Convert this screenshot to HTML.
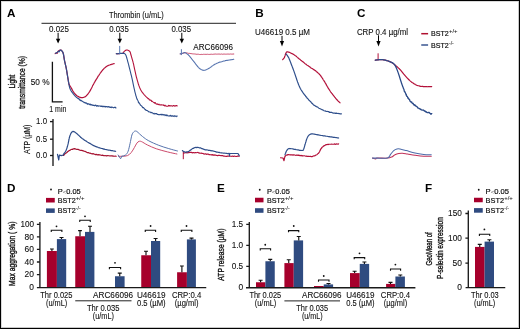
<!DOCTYPE html>
<html><head><meta charset="utf-8">
<style>
html,body{margin:0;padding:0;background:#fff;width:520px;height:329px;overflow:hidden}
svg{display:block;will-change:transform}
text{font-family:"Liberation Sans",sans-serif;fill:#111;stroke:#111;stroke-width:0.1}
.b{font-weight:bold;font-size:11.7px;fill:#000;stroke:none}
.t8{font-size:8.25px}
.t75{font-size:7.5px;stroke-width:0.2}
.sup{font-size:5px;stroke-width:0.05}
.ax{stroke:#1a1a1a;stroke-width:1.35;fill:none}
.tr{fill:none;stroke-width:1.2;stroke-linejoin:round;stroke-linecap:round}
.rd{stroke:#b3113a}
.rd2{stroke:#a5112f}
.bl2{stroke:#2b4a88}
.rdm{stroke:#c03058;stroke-width:1.05}
.blm{stroke:#4d6caa;stroke-width:1.05}
.bl{stroke:#2f4f8c}
.rdl{stroke:#cc4b6c;stroke-width:1}
.bll{stroke:#5874ad;stroke-width:1}
.rb{fill:#a6002c}
.bb{fill:#2f4b80}
.eb{stroke:#111;stroke-width:1.15;fill:none}
.br{stroke:#111;stroke-width:1.1;fill:none}
.ar{fill:#000}
.rl{font-size:8.8px;stroke:#111;stroke-width:0.35}
</style></head>
<body>
<svg width="520" height="329" viewBox="0 0 520 329">
<rect x="0" y="0" width="520" height="329" fill="#fff"/>
<!-- border -->
<g shape-rendering="crispEdges">
<rect x="0" y="1" width="520" height="1" fill="#dadada"/>
<rect x="1" y="0" width="1" height="329" fill="#dadada"/>
<rect x="518" y="0" width="1" height="329" fill="#c8c8c8"/>
<rect x="0" y="327" width="520" height="1" fill="#c8c8c8"/>
<rect x="0" y="0" width="520" height="1" fill="#000"/>
<rect x="0" y="0" width="1" height="329" fill="#000"/>
<rect x="519" y="0" width="1" height="329" fill="#000"/>
<rect x="0" y="328" width="520" height="1" fill="#000"/>
</g>

<!-- ============ PANEL A ============ -->
<text class="b" x="7" y="16.9">A</text>
<text class="t8" x="108.9" y="17.6" textLength="54.9" lengthAdjust="spacingAndGlyphs">Thrombin (u/mL)</text>
<line x1="41.5" y1="23.3" x2="236" y2="23.3" stroke="#222" stroke-width="1"/>
<text class="t8" x="49" y="31.7" textLength="20" lengthAdjust="spacingAndGlyphs">0.025</text>
<text class="t8" x="109.2" y="31.7" textLength="19.6" lengthAdjust="spacingAndGlyphs">0.035</text>
<text class="t8" x="171.4" y="31.7" textLength="19.6" lengthAdjust="spacingAndGlyphs">0.035</text>
<g>
<line x1="58.1" y1="32.8" x2="58.1" y2="40" stroke="#000" stroke-width="1"/>
<polygon class="ar" points="55.9,38.8 60.3,38.8 58.1,43.6"/>
<line x1="119.8" y1="32.8" x2="119.8" y2="40" stroke="#000" stroke-width="1"/>
<polygon class="ar" points="117.6,38.8 122,38.8 119.8,43.6"/>
<line x1="181.8" y1="32.8" x2="181.8" y2="40" stroke="#000" stroke-width="1"/>
<polygon class="ar" points="179.6,38.8 184,38.8 181.8,43.6"/>
</g>
<text class="t8" x="193.3" y="49.7" textLength="39.6" lengthAdjust="spacingAndGlyphs">ARC66096</text>

<!-- light transmission traces A -->
<path id="a1r" class="tr rd" d="M55.20,53.60 L56.40,52.90 L57.30,53.30 M57.30,52.40 L57.58,52.05 L57.97,51.53 L58.43,51.00 L58.90,50.60 L59.58,50.25 L60.32,50.05 L61.00,50.10 L61.45,50.37 L61.88,50.81 L62.26,51.34 L62.60,51.90 L62.87,52.43 L63.09,52.97 L63.29,53.63 L63.50,54.50 L63.60,54.99 L63.70,55.55 L63.80,56.16 L63.89,56.80 L63.99,57.47 L64.09,58.13 L64.19,58.79 L64.30,59.42 L64.40,60.00 L64.54,60.69 L64.68,61.36 L64.82,61.99 L64.97,62.62 L65.11,63.24 L65.26,63.86 L65.40,64.50 L65.54,65.11 L65.67,65.68 L65.80,66.23 L65.94,66.81 L66.08,67.45 L66.23,68.21 L66.40,69.10 L66.49,69.58 L66.58,70.11 L66.67,70.68 L66.77,71.28 L66.88,71.91 L66.98,72.56 L67.09,73.22 L67.20,73.89 L67.30,74.56 L67.41,75.22 L67.52,75.87 L67.62,76.50 L67.72,77.10 L67.81,77.67 L67.90,78.20 L68.03,78.95 L68.14,79.68 L68.26,80.38 L68.36,81.06 L68.47,81.70 L68.57,82.31 L68.68,82.87 L68.78,83.40 L68.89,83.87 L69.00,84.30 L69.40,85.25 L69.80,85.73 L70.20,86.20 L70.51,86.70 L70.82,87.19 L71.30,88.00 L71.52,88.40 L71.77,88.87 L72.04,89.39 L72.33,89.94 L72.64,90.52 L72.96,91.10 L73.30,91.67 L73.64,92.21 L74.00,92.70 L74.42,93.23 L74.86,93.75 L75.33,94.19 L75.81,94.78 L76.30,95.20 L76.80,95.71 L77.30,96.10 L77.80,96.27 L78.39,96.58 L78.99,97.09 L79.61,97.14 L80.23,97.30 L80.85,97.65 L81.44,97.56 L82.00,97.70 L82.72,97.57 L83.40,97.52 L84.05,97.18 L84.71,97.00 L85.40,96.61 L85.80,96.19 L86.20,95.92 L86.60,95.52 L87.01,94.92 L87.43,94.67 L87.85,94.11 L88.29,93.45 L88.74,92.75 L89.20,92.31 L89.47,91.77 L89.75,91.38 L90.03,90.94 L90.32,90.37 L90.61,89.90 L90.91,89.18 L91.20,88.73 L91.51,88.04 L91.81,87.60 L92.11,86.99 L92.42,86.16 L92.72,85.59 L93.02,85.04 L93.32,84.70 L93.61,84.00 L93.90,83.54 L94.23,82.86 L94.55,82.35 L94.87,81.75 L95.19,81.18 L95.50,80.69 L95.82,80.14 L96.13,79.70 L96.45,79.09 L96.76,78.63 L97.08,78.08 L97.41,77.60 L97.73,76.98 L98.06,76.31 L98.40,76.01 L98.77,75.49 L99.14,74.91 L99.52,74.25 L99.90,73.74 L100.29,73.04 L100.67,72.68 L101.06,72.07 L101.45,71.46 L101.85,70.89 L102.24,70.64 L102.63,70.21 L103.01,69.49 L103.40,69.29 L103.90,68.67 L104.39,68.12 L104.87,67.72 L105.36,67.45 L105.85,67.10 L106.34,66.49 L106.84,66.33 L107.35,65.84 L107.87,65.75 L108.40,65.35 L108.97,65.25 L109.60,65.04 L110.26,64.68 L110.94,64.64 L111.61,64.26 L112.26,64.03 L112.86,64.05 L113.40,63.76 L113.85,63.70 L114.20,63.67"/>
<path id="a1b" class="tr bl" d="M55.60,53.30 L57.30,52.20 L58.20,51.30 L59.00,51.80 L60.00,50.30 M60.00,50.30 L60.40,50.09 L61.00,50.10 L61.37,50.39 L61.81,50.82 L62.24,51.35 L62.60,51.90 L62.82,52.32 L63.01,52.74 L63.17,53.21 L63.33,53.78 L63.50,54.50 L63.58,54.89 L63.66,55.34 L63.74,55.82 L63.82,56.33 L63.90,56.86 L63.98,57.40 L64.07,57.95 L64.15,58.49 L64.23,59.02 L64.31,59.53 L64.40,60.00 L64.51,60.54 L64.62,61.07 L64.73,61.57 L64.84,62.06 L64.95,62.55 L65.06,63.03 L65.18,63.51 L65.29,64.00 L65.40,64.50 L65.51,64.98 L65.61,65.43 L65.71,65.86 L65.82,66.29 L65.92,66.74 L66.03,67.23 L66.14,67.77 L66.27,68.39 L66.40,69.10 L66.47,69.50 L66.55,69.93 L66.63,70.39 L66.71,70.88 L66.79,71.39 L66.88,71.91 L66.97,72.45 L67.05,73.00 L67.14,73.56 L67.23,74.11 L67.32,74.67 L67.41,75.22 L67.50,75.76 L67.58,76.29 L67.67,76.80 L67.75,77.30 L67.83,77.76 L67.90,78.20 L68.01,78.82 L68.11,79.41 L68.21,79.98 L68.30,80.52 L68.39,81.05 L68.48,81.55 L68.57,82.04 L68.66,82.51 L68.74,82.97 L68.83,83.42 L68.91,83.86 L69.00,84.30 L69.12,84.93 L69.23,85.51 L69.33,86.06 L69.42,86.59 L69.53,87.10 L69.66,87.60 L69.81,88.09 L70.00,88.60 L70.19,89.05 L70.39,89.48 L70.61,89.90 L70.84,90.32 L71.09,90.74 L71.36,91.16 L71.65,91.59 L71.96,92.04 L72.30,92.50 L72.57,92.86 L72.85,93.24 L73.15,93.62 L73.46,94.01 L73.78,94.41 L74.11,94.81 L74.46,95.21 L74.81,95.61 L75.17,96.00 L75.54,96.38 L75.92,96.75 L76.30,97.10 L76.70,97.45 L77.13,97.79 L77.57,98.13 L78.03,98.56 L78.49,98.48 L78.96,98.70 L79.43,99.76 L79.90,99.56 L80.35,100.43 L80.79,100.65 L81.21,100.44 L81.60,100.76 L82.14,101.15 L82.64,101.55 L83.10,101.77 L83.54,101.97 L83.98,102.25 L84.43,102.75 L84.90,102.58 L85.40,102.74 L85.86,103.21 L86.30,102.98 L86.73,103.25 L87.18,104.07 L87.65,103.86 L88.16,104.08 L88.71,103.79 L89.32,104.34 L90.00,104.67 L90.40,104.26 L90.81,104.89 L91.26,105.00 L91.72,104.57 L92.20,105.17 L92.69,105.12 L93.19,105.40 L93.71,105.19 L94.23,105.59 L94.76,105.70 L95.29,105.14 L95.82,105.25 L96.35,105.88 L96.87,106.21 L97.39,105.64 L97.90,105.89 L98.40,106.08 L98.92,105.90 L99.44,106.01 L99.95,106.02 L100.46,106.12 L100.97,106.38 L101.48,106.16 L101.99,106.28 L102.50,106.68 L103.01,106.05 L103.53,106.58 L104.04,106.77 L104.56,106.44 L105.09,106.40 L105.62,106.97 L106.16,106.51 L106.70,106.52 L107.20,106.79 L107.73,107.08 L108.29,106.60 L108.86,106.85 L109.45,106.92 L110.04,107.43 L110.64,107.13 L111.23,107.56 L111.82,107.00 L112.39,107.21 L112.95,107.55 L113.48,107.81 L113.99,107.47 L114.46,107.31 L114.89,107.26 L115.28,107.67 L115.62,107.39 L115.90,107.98"/>

<path id="a2r" class="tr rd" style="stroke-width:1.1" d="M116.30,53.80 L119.00,53.60 L122.60,53.30 M122.60,53.30 L122.86,53.00 L123.23,52.56 L123.66,52.07 L124.10,51.59 L124.50,51.20 L124.94,50.83 L125.36,50.51 L125.78,50.27 L126.20,50.10 L126.76,50.00 L127.31,50.03 L127.90,50.20 L128.40,50.41 L128.94,50.69 L129.46,51.08 L129.90,51.60 L130.09,51.94 L130.24,52.29 L130.37,52.67 L130.49,53.10 L130.62,53.62 L130.79,54.24 L131.00,55.00 L131.10,55.36 L131.22,55.74 L131.34,56.16 L131.47,56.60 L131.60,57.06 L131.74,57.54 L131.89,58.03 L132.03,58.54 L132.18,59.06 L132.33,59.58 L132.48,60.11 L132.62,60.64 L132.77,61.17 L132.91,61.69 L133.04,62.21 L133.18,62.71 L133.30,63.20 L133.43,63.71 L133.55,64.22 L133.67,64.74 L133.78,65.25 L133.89,65.76 L134.00,66.27 L134.11,66.78 L134.22,67.29 L134.33,67.81 L134.43,68.32 L134.54,68.83 L134.65,69.34 L134.76,69.86 L134.87,70.37 L134.98,70.88 L135.10,71.40 L135.21,71.89 L135.32,72.37 L135.43,72.86 L135.54,73.35 L135.65,73.84 L135.76,74.33 L135.87,74.82 L135.99,75.31 L136.10,75.79 L136.22,76.28 L136.33,76.77 L136.45,77.26 L136.58,77.75 L136.70,78.24 L136.83,78.73 L136.96,79.21 L137.10,79.70 L137.24,80.19 L137.38,80.69 L137.53,81.19 L137.67,81.69 L137.82,82.20 L137.98,82.71 L138.13,83.22 L138.29,83.72 L138.45,84.23 L138.61,84.72 L138.77,85.21 L138.94,85.69 L139.11,86.16 L139.28,86.62 L139.45,87.06 L139.62,87.49 L139.80,87.90 L140.05,88.45 L140.29,88.97 L140.53,89.47 L140.78,89.94 L141.03,90.39 L141.28,90.83 L141.55,91.25 L141.82,91.67 L142.11,92.10 L142.42,92.52 L142.75,92.95 L143.10,93.40 L143.39,93.76 L143.70,94.13 L144.01,94.50 L144.34,94.87 L144.67,95.24 L145.01,95.61 L145.36,95.97 L145.73,96.34 L146.10,96.70 L146.47,97.06 L146.86,97.42 L147.26,97.77 L147.66,98.12 L148.08,98.77 L148.50,98.52 L148.88,98.90 L149.27,99.67 L149.66,99.82 L150.07,100.26 L150.48,100.15 L150.90,100.25 L151.32,100.68 L151.75,101.42 L152.19,101.23 L152.63,101.58 L153.08,101.91 L153.54,102.18 L154.00,102.42 L154.47,103.12 L154.94,102.66 L155.42,102.75 L155.90,103.80 L156.37,103.93 L156.85,104.20 L157.35,103.87 L157.87,104.49 L158.39,104.63 L158.92,104.14 L159.46,104.74 L160.00,104.96 L160.54,104.92 L161.07,104.91 L161.61,104.81 L162.13,104.96 L162.65,104.96 L163.15,104.90 L163.64,105.46 L164.12,105.26 L164.57,105.81 L165.00,105.19 L165.61,106.05 L166.18,105.93 L166.71,106.18 L167.22,106.18 L167.71,106.20 L168.18,105.91 L168.64,105.40 L169.10,106.05 L169.56,105.52 L170.02,105.63 L170.50,105.95 L171.00,105.82 L171.53,105.72 L172.09,106.19 L172.68,105.89 L173.28,105.64 L173.88,105.55 L174.47,106.09 L175.05,105.73 L175.59,105.99 L176.08,105.59 L176.52,105.44 L176.90,105.74 L177.20,105.99"/>
<path id="a2b" class="tr bl" style="stroke-width:1.1" d="M116.30,53.64 L117.20,53.85 L118.10,53.81 L119.00,53.65 L119.90,53.61 L120.80,53.15 L121.70,53.41 L122.60,53.48 L123.40,53.12 L124.20,53.40 M124.20,53.40 L124.49,53.58 L124.91,53.80 L125.39,54.27 L125.90,55.20 L126.03,55.53 L126.16,55.90 L126.30,56.31 L126.44,56.76 L126.58,57.24 L126.73,57.74 L126.88,58.26 L127.03,58.80 L127.18,59.35 L127.33,59.91 L127.48,60.48 L127.62,61.04 L127.77,61.60 L127.92,62.15 L128.06,62.68 L128.20,63.20 L128.34,63.71 L128.47,64.21 L128.61,64.72 L128.74,65.23 L128.87,65.74 L129.01,66.26 L129.14,66.77 L129.27,67.28 L129.40,67.79 L129.53,68.31 L129.66,68.82 L129.79,69.34 L129.92,69.85 L130.04,70.37 L130.17,70.88 L130.30,71.40 L130.42,71.88 L130.54,72.36 L130.66,72.84 L130.78,73.32 L130.90,73.80 L131.01,74.27 L131.13,74.75 L131.25,75.23 L131.36,75.71 L131.48,76.19 L131.60,76.68 L131.71,77.17 L131.83,77.66 L131.95,78.16 L132.07,78.67 L132.18,79.18 L132.30,79.70 L132.40,80.17 L132.51,80.65 L132.61,81.13 L132.71,81.62 L132.81,82.11 L132.91,82.61 L133.01,83.11 L133.11,83.61 L133.21,84.12 L133.31,84.62 L133.42,85.13 L133.52,85.64 L133.62,86.15 L133.73,86.66 L133.84,87.17 L133.95,87.68 L134.06,88.19 L134.18,88.70 L134.30,89.20 L134.42,89.71 L134.54,90.22 L134.67,90.75 L134.79,91.28 L134.92,91.81 L135.05,92.35 L135.18,92.88 L135.31,93.42 L135.44,93.95 L135.58,94.48 L135.72,95.01 L135.86,95.52 L136.00,96.03 L136.14,96.28 L136.29,96.76 L136.44,97.51 L136.59,97.86 L136.74,98.35 L136.90,99.10 L137.13,98.84 L137.38,99.46 L137.63,100.07 L137.88,100.58 L138.14,101.00 L138.40,102.47 L138.67,102.79 L138.94,102.38 L139.21,103.25 L139.49,103.45 L139.76,103.84 L140.03,104.26 L140.30,104.96 L140.65,105.36 L141.00,105.53 L141.35,105.74 L141.70,106.26 L142.06,106.39 L142.41,107.19 L142.78,107.69 L143.14,107.64 L143.52,107.62 L143.90,108.05 L144.33,108.61 L144.76,109.21 L145.20,109.74 L145.65,109.62 L146.10,110.39 L146.56,110.50 L147.03,110.58 L147.51,110.79 L148.00,111.20 L148.43,111.65 L148.84,111.55 L149.25,112.06 L149.66,111.99 L150.08,111.94 L150.53,112.44 L151.01,112.79 L151.55,112.28 L152.14,112.84 L152.80,113.02 L153.20,113.62 L153.64,113.78 L154.09,113.27 L154.57,113.94 L155.07,113.93 L155.59,113.45 L156.11,113.77 L156.65,113.50 L157.20,114.36 L157.75,114.29 L158.31,114.63 L158.86,114.62 L159.41,114.58 L159.95,114.74 L160.49,114.64 L161.01,114.21 L161.51,114.82 L162.00,114.26 L162.53,114.49 L163.06,115.25 L163.59,114.52 L164.10,114.64 L164.62,114.71 L165.12,115.62 L165.63,114.91 L166.12,114.79 L166.62,115.74 L167.11,115.00 L167.60,115.84 L168.08,115.70 L168.57,115.92 L169.05,116.10 L169.52,115.74 L170.00,116.03 L170.56,115.25 L171.13,116.11 L171.73,115.89 L172.33,116.17 L172.93,115.56 L173.52,116.32 L174.10,116.58 L174.66,115.68 L175.19,116.02 L175.69,116.33 L176.15,116.66 L176.56,116.05 L176.91,116.02 L177.20,116.12"/>
<line x1="119.7" y1="45.9" x2="119.7" y2="53.8" stroke="#5b79b3" stroke-width="1"/>

<path id="a3r" class="tr rdl" d="M180.20,53.93 L181.10,53.83 L182.00,53.57 L182.97,53.26 L183.93,52.97 L184.90,52.66 L185.77,52.80 L186.64,52.83 L187.51,53.09 L188.39,53.36 L189.26,53.32 L190.13,53.55 L191.00,53.50 L191.84,53.75 L192.69,53.85 L193.53,53.92 L194.38,53.96 L195.22,54.04 L196.07,54.18 L196.91,54.34 L197.76,54.21 L198.60,54.28 L199.42,54.47 L200.24,54.52 L201.07,54.41 L201.89,54.38 L202.71,54.47 L203.53,54.31 L204.36,54.33 L205.18,54.31 L206.00,54.43 L206.81,54.32 L207.62,54.28 L208.43,54.40 L209.24,54.46 L210.05,54.24 L210.86,54.34 L211.67,54.23 L212.48,54.35 L213.29,54.25 L214.10,54.13 L214.92,54.11 L215.74,54.04 L216.56,54.17 L217.38,54.13 L218.20,54.06 L219.03,54.11 L219.85,54.09 L220.67,54.22 L221.49,54.02 L222.31,54.26 L223.13,54.10 L223.95,54.13 L224.77,54.08 L225.59,54.18 L226.41,54.17 L227.23,54.08 L228.05,54.05 L228.88,54.12 L229.70,54.15 L230.52,54.00 L231.34,54.10 L232.16,54.15 L232.98,54.00 L233.80,54.00"/>
<path id="a3b" class="tr blm" style="stroke:#5472ae" d="M180.20,53.84 L180.61,53.71 L181.20,53.63 L181.86,53.42 L182.50,53.31 L183.10,53.11 L183.71,52.78 L184.32,52.63 L184.90,52.64 L185.62,52.84 L186.31,53.36 L187.00,53.89 L187.46,54.22 L187.88,54.38 L188.39,55.01 L189.10,55.66 L189.41,56.04 L189.74,56.52 L190.11,56.81 L190.50,57.30 L190.91,57.99 L191.34,58.40 L191.77,58.97 L192.21,59.57 L192.64,60.15 L193.07,60.54 L193.49,61.15 L193.90,61.68 L194.30,62.20 L194.71,62.66 L195.12,63.29 L195.54,63.93 L195.96,64.34 L196.37,64.91 L196.77,65.33 L197.17,65.87 L197.55,66.44 L197.92,66.75 L198.27,67.34 L198.60,67.70 L199.30,68.17 L199.91,68.85 L200.46,69.05 L200.97,69.41 L201.50,69.66 L202.11,69.87 L202.67,70.21 L203.26,70.35 L204.00,70.37 L204.49,70.17 L204.99,70.19 L205.53,70.09 L206.11,69.82 L206.74,69.53 L207.43,69.11 L208.20,68.80 L208.61,68.52 L209.05,68.33 L209.51,68.02 L209.98,67.66 L210.47,67.21 L210.97,66.96 L211.49,66.58 L212.01,66.09 L212.55,65.88 L213.09,65.45 L213.64,64.96 L214.19,64.81 L214.75,64.30 L215.30,64.06 L215.86,63.88 L216.42,63.60 L216.98,63.34 L217.56,63.12 L218.13,62.84 L218.72,62.59 L219.31,62.34 L219.91,62.11 L220.52,62.06 L221.14,61.88 L221.76,61.64 L222.40,61.51 L223.04,61.24 L223.70,61.04 L224.27,60.93 L224.87,60.91 L225.51,60.58 L226.17,60.56 L226.85,60.37 L227.55,60.37 L228.24,60.15 L228.93,60.03 L229.61,59.93 L230.28,59.86 L230.91,59.82 L231.52,59.63 L232.08,59.66 L232.60,59.40 L233.06,59.37 L233.47,59.26 L233.80,59.21"/>
<line x1="181.4" y1="49.2" x2="181.4" y2="55.1" stroke="#5b79b3" stroke-width="1"/>

<!-- scale bar -->
<path d="M52.4,61.7 L52.4,101.8 L62.6,101.8" fill="none" stroke="#111" stroke-width="1.3"/>
<text class="t8" x="30.7" y="84.7" textLength="18.9" lengthAdjust="spacingAndGlyphs">50 %</text>
<text class="t8" x="49.3" y="111.7" textLength="17" lengthAdjust="spacingAndGlyphs">1 min</text>
<text class="rl" text-anchor="middle" transform="translate(14.6,81.65) rotate(-90)" textLength="13.9" lengthAdjust="spacingAndGlyphs">Light</text>
<text class="rl" text-anchor="middle" transform="translate(25.3,82.35) rotate(-90)" textLength="52.9" lengthAdjust="spacingAndGlyphs">transmittance (%)</text>

<!-- ATP axis A -->
<line class="ax" x1="53" y1="119" x2="53" y2="166"/>
<line class="ax" x1="50" y1="121.6" x2="53" y2="121.6"/>
<line class="ax" x1="50" y1="139.2" x2="53" y2="139.2"/>
<line class="ax" x1="50" y1="155.5" x2="53" y2="155.5"/>
<text class="t8" x="47" y="124.2" text-anchor="end" textLength="10.9" lengthAdjust="spacingAndGlyphs">1.0</text>
<text class="t8" x="47" y="141.8" text-anchor="end" textLength="10.9" lengthAdjust="spacingAndGlyphs">0.5</text>
<text class="t8" x="47" y="158.1" text-anchor="end" textLength="10.9" lengthAdjust="spacingAndGlyphs">0.0</text>
<text class="rl" style="font-size:8.3px;stroke-width:0.15" text-anchor="middle" transform="translate(30.2,139.3) rotate(-90)" textLength="29.2" lengthAdjust="spacingAndGlyphs">ATP (µM)</text>

<!-- ATP traces A -->
<path id="p1r" class="tr rd2" d="M63.10,155.36 L63.73,155.30 L64.36,154.40 L64.99,153.81 L65.61,153.47 L66.24,152.79 L66.87,152.49 L67.50,151.82 L68.25,151.21 L69.00,150.68 L69.75,150.51 L70.50,149.79 L71.25,149.54 L72.04,149.22 L72.83,149.29 L73.61,148.81 L74.40,148.62 L75.20,148.81 L76.00,149.26 L76.80,149.35 L77.60,149.39 L78.40,149.44 L79.20,149.91 L80.00,150.23 L80.83,150.32 L81.67,150.31 L82.50,150.60 L83.33,150.91 L84.17,151.22 L85.00,151.43 L85.83,151.72 L86.67,152.30 L87.50,152.70 L88.30,152.54 L89.09,153.12 L89.89,153.06 L90.68,153.42 L91.48,153.66 L92.27,153.87 L93.07,153.60 L93.86,153.93 L94.66,154.27 L95.45,154.63 L96.25,154.39 L97.05,154.59 L97.84,154.96 L98.64,154.68 L99.43,154.91 L100.23,154.97 L101.02,155.24 L101.82,155.45 L102.61,155.16 L103.41,155.54 L104.20,155.63 L105.00,155.77 L105.80,155.67 L106.61,155.90 L107.41,155.67 L108.21,155.74 L109.02,155.70 L109.82,156.02 L110.62,155.92 L111.43,155.86 L112.23,155.85 L113.04,156.17 L113.84,156.16 L114.64,156.26 L115.45,156.15 L116.25,156.25"/>
<path id="p1b" class="tr bl2" d="M57.50,154.40 L58.75,160.00 L59.40,155.00 L61.25,155.60 L63.10,155.00 M63.10,155.07 L63.31,154.73 L63.60,154.17 L63.95,153.68 L64.33,153.17 L64.73,152.64 L65.14,152.02 L65.53,151.35 L65.89,150.66 L66.20,149.92 L66.44,149.40 L66.67,148.76 L66.88,148.22 L67.08,147.61 L67.26,146.88 L67.44,146.25 L67.61,145.73 L67.78,144.91 L67.94,144.45 L68.10,143.84 L68.25,143.22 L68.39,142.44 L68.52,141.83 L68.64,141.18 L68.76,140.54 L68.88,139.98 L69.00,139.28 L69.12,138.58 L69.26,138.14 L69.40,137.50 L69.62,136.77 L69.85,136.08 L70.08,135.22 L70.33,134.76 L70.58,134.14 L70.84,133.56 L71.10,133.11 L71.57,132.43 L72.05,131.88 L72.56,131.65 L73.10,131.39 L73.68,131.55 L74.29,131.82 L74.93,132.14 L75.60,132.62 L76.07,133.06 L76.55,133.46 L77.04,133.74 L77.55,134.39 L78.07,134.84 L78.60,135.19 L79.05,135.67 L79.48,136.05 L79.92,136.43 L80.38,136.97 L80.87,137.49 L81.41,137.79 L82.00,138.39 L82.45,138.68 L82.92,138.88 L83.40,139.40 L83.91,139.69 L84.44,140.12 L84.99,140.43 L85.56,140.81 L86.15,141.09 L86.76,141.58 L87.40,142.00 L87.87,142.27 L88.35,142.47 L88.84,142.86 L89.34,143.11 L89.85,143.34 L90.38,143.64 L90.91,143.97 L91.46,144.33 L92.02,144.64 L92.59,145.03 L93.17,145.39 L93.77,145.65 L94.38,145.91 L95.00,146.24 L95.52,146.37 L96.06,146.63 L96.61,146.91 L97.18,147.03 L97.75,147.18 L98.33,147.56 L98.92,147.71 L99.51,147.82 L100.11,148.01 L100.72,148.24 L101.33,148.43 L101.94,148.52 L102.55,148.64 L103.17,148.86 L103.78,149.16 L104.39,149.16 L105.00,149.39 L105.63,149.48 L106.28,149.62 L106.97,149.76 L107.68,149.95 L108.40,150.03 L109.12,150.13 L109.85,150.28 L110.57,150.41 L111.28,150.61 L111.96,150.61 L112.62,150.71 L113.24,150.91 L113.82,150.99 L114.36,151.14 L114.83,151.06 L115.25,151.22 L115.60,151.28"/>

<path id="p2r" class="tr rdl" d="M118.50,156.30 C119.17,156.29 121.00,156.37 122.50,156.25 C124.00,156.13 126.04,156.22 127.50,155.60 C128.96,154.97 130.10,153.85 131.25,152.50 C132.40,151.15 133.46,149.07 134.40,147.50 C135.34,145.93 136.13,144.12 136.90,143.10 C137.67,142.08 138.23,141.65 139.00,141.40 C139.77,141.15 140.08,141.00 141.50,141.60 C142.92,142.20 145.04,143.81 147.50,145.00 C149.96,146.19 152.92,147.60 156.25,148.75 C159.58,149.90 164.06,151.03 167.50,151.90 C170.94,152.78 175.33,153.65 176.90,154.00"/>
<path id="p2b" class="tr bll" d="M118.10,155.00 L120.60,158.75 L121.90,156.25 M121.90,156.25 C122.52,156.04 124.57,155.83 125.60,155.00 C126.63,154.17 127.37,153.12 128.10,151.25 C128.83,149.38 129.37,146.46 130.00,143.75 C130.63,141.04 131.28,136.97 131.90,135.00 C132.53,133.03 133.20,132.55 133.75,131.90 C134.30,131.25 134.66,131.15 135.20,131.10 C135.74,131.05 135.78,130.70 137.00,131.60 C138.22,132.50 140.54,134.97 142.50,136.50 C144.46,138.03 146.04,139.33 148.75,140.80 C151.46,142.27 155.42,144.00 158.75,145.30 C162.08,146.60 165.62,147.65 168.75,148.60 C171.88,149.55 176.04,150.60 177.50,151.00"/>

<path id="p3r" class="tr rd" d="M183.50,153.19 L184.50,152.99 L185.50,152.58 L186.33,152.63 L187.17,152.99 L188.00,152.57 L188.83,152.60 L189.67,152.36 L190.50,152.41 L191.33,152.35 L192.17,152.79 L193.00,152.64 L193.83,152.72 L194.67,152.79 L195.50,152.57 L196.33,152.76 L197.17,152.52 L198.00,152.45 L198.83,152.94 L199.67,153.08 L200.50,153.27 L201.33,153.16 L202.17,153.50 L203.00,153.44 L203.83,153.94 L204.67,154.03 L205.50,153.79 L206.33,154.32 L207.17,154.01 L208.00,154.09 L208.83,154.61 L209.67,154.49 L210.50,154.76 L211.38,154.92 L212.25,154.64 L213.12,155.15 L214.00,154.96 L214.88,155.13 L215.75,155.17 L216.62,155.49 L217.50,155.58 L218.38,155.39 L219.25,155.36 L220.08,155.53 L220.92,155.65 L221.75,155.51 L222.58,155.61 L223.42,156.03 L224.25,156.05 L225.08,156.27 L225.92,156.32 L226.75,156.31 L227.58,156.07 L228.42,155.99 L229.25,156.14 L230.08,156.23 L230.92,156.27 L231.75,156.28 L232.58,156.17 L233.42,156.46 L234.25,156.12 L235.08,156.23 L235.92,156.48 L236.75,156.43 L237.58,156.13 L238.42,156.10 L239.25,156.25"/>
<line x1="183.3" y1="151" x2="183.3" y2="159.2" stroke="#b3113a" stroke-width="1"/>
<path id="p3b" class="tr bl" d="M182.40,150.59 L182.83,150.85 L183.47,151.60 L184.25,151.71 L184.80,152.00 L185.42,152.19 L186.08,152.17 L186.75,151.88 L187.40,151.79 L187.92,151.83 L188.44,151.46 L188.95,151.22 L189.47,150.85 L189.98,150.32 L190.50,150.16 L191.02,149.76 L191.53,149.25 L192.05,148.92 L192.56,148.47 L193.08,148.30 L193.60,148.28 L194.22,147.72 L194.83,147.74 L195.44,147.44 L196.08,147.35 L196.75,147.56 L197.33,147.41 L197.91,147.39 L198.51,147.52 L199.14,147.84 L199.80,147.96 L200.50,147.90 L201.05,148.15 L201.60,148.63 L202.17,148.55 L202.77,148.91 L203.39,149.08 L204.04,149.45 L204.75,149.60 L205.50,149.87 L206.04,149.88 L206.62,149.85 L207.23,149.96 L207.86,150.02 L208.51,150.42 L209.17,150.23 L209.84,150.29 L210.50,150.77 L211.15,150.56 L211.79,150.94 L212.41,150.72 L213.00,150.99 L213.66,151.03 L214.29,151.42 L214.89,151.49 L215.47,151.66 L216.05,151.86 L216.63,152.07 L217.23,152.01 L217.86,152.26 L218.53,152.34 L219.25,152.34 L219.82,152.73 L220.45,152.73 L221.12,152.91 L221.82,152.76 L222.55,152.98 L223.28,153.04 L224.02,153.23 L224.73,153.06 L225.42,153.24 L226.06,153.37 L226.66,153.27 L227.19,153.53 L227.64,153.65 L228.00,153.57 M228.00,153.60 L229.20,153.40 L229.60,155.80 L229.60,153.50 L238.00,153.50 L239.25,155.60"/>

<!-- ============ PANEL B ============ -->
<text class="b" x="255.25" y="16.9">B</text>
<text class="t8" x="255" y="34.6" textLength="55" lengthAdjust="spacingAndGlyphs">U46619 0.5 µM</text>
<line x1="282" y1="35.9" x2="282" y2="42" stroke="#000" stroke-width="1"/>
<polygon class="ar" points="279.9,40.9 284.1,40.9 282,46.4"/>
<path id="br" class="tr rd" d="M282.70,59.70 L284.40,57.60 M284.40,57.67 L284.53,57.08 L284.71,56.54 L284.92,55.95 L285.16,55.21 L285.40,54.38 L285.65,53.65 L285.89,53.08 L286.10,52.76 L286.74,51.85 L287.60,51.92 L288.05,51.96 L288.57,52.18 L289.14,52.19 L289.75,52.51 L290.38,52.78 L291.00,53.18 L291.53,53.42 L292.07,53.61 L292.62,54.00 L293.18,54.18 L293.77,54.56 L294.37,54.92 L295.00,55.47 L295.46,55.71 L295.92,56.03 L296.40,56.37 L296.89,56.87 L297.39,57.34 L297.90,57.78 L298.42,58.28 L298.94,58.70 L299.47,59.00 L300.00,59.41 L300.45,59.93 L300.91,60.30 L301.39,60.62 L301.86,61.08 L302.35,61.39 L302.83,61.72 L303.32,62.07 L303.80,62.42 L304.29,62.95 L304.77,63.38 L305.24,63.75 L305.70,63.99 L306.25,64.45 L306.79,64.91 L307.32,65.27 L307.85,65.60 L308.38,65.94 L308.90,66.33 L309.42,66.62 L309.95,66.99 L310.47,67.48 L311.00,67.92 L311.53,68.18 L312.08,68.50 L312.62,68.84 L313.17,69.21 L313.71,69.64 L314.25,69.91 L314.78,70.39 L315.30,70.56 L315.81,70.97 L316.30,71.41 L316.77,71.77 L317.22,72.26 L317.66,72.64 L318.09,73.06 L318.51,73.38 L318.92,73.66 L319.33,74.23 L319.75,74.69 L320.17,75.17 L320.60,75.65 L320.94,76.19 L321.27,76.69 L321.61,76.98 L321.96,77.61 L322.30,78.05 L322.64,78.61 L322.98,79.24 L323.32,79.80 L323.66,80.26 L324.00,80.70 L324.34,81.42 L324.67,81.79 L325.00,82.37 L325.32,83.01 L325.63,83.41 L325.92,83.93 L326.21,84.62 L326.50,85.14 L326.79,85.53 L327.08,86.08 L327.38,86.60 L327.69,87.11 L328.01,87.70 L328.35,88.44 L328.71,88.81 L329.10,89.44 L329.42,89.90 L329.75,90.36 L330.10,90.97 L330.46,91.54 L330.84,92.09 L331.23,92.57 L331.62,93.16 L332.01,93.50 L332.41,94.10 L332.81,94.80 L333.21,95.11 L333.60,95.67 L333.98,96.21 L334.36,96.64 L334.72,97.17 L335.07,97.48 L335.40,97.94 L335.91,98.71 L336.42,99.09 L336.92,99.83 L337.42,100.18 L337.91,100.87 L338.37,101.25 L338.80,101.67 L339.20,101.93 L339.55,102.25 L339.86,102.71 L340.10,102.82"/>
<path id="bb" class="tr bl" d="M286.10,54.00 L286.33,54.31 L286.63,54.70 L287.00,55.17 L287.40,55.71 L287.82,56.30 L288.23,56.93 L288.60,57.60 L288.84,58.09 L289.08,58.60 L289.31,59.14 L289.54,59.70 L289.77,60.28 L290.00,60.89 L290.24,61.51 L290.48,62.16 L290.74,62.82 L291.00,63.50 L291.19,63.99 L291.38,64.46 L291.56,64.93 L291.75,65.41 L291.93,65.89 L292.12,66.38 L292.32,66.89 L292.52,67.42 L292.73,67.98 L292.96,68.57 L293.19,69.21 L293.45,69.89 L293.71,70.62 L294.00,71.40 L294.16,71.85 L294.33,72.33 L294.51,72.84 L294.69,73.37 L294.87,73.92 L295.07,74.49 L295.26,75.08 L295.46,75.68 L295.66,76.29 L295.87,76.91 L296.08,77.54 L296.29,78.18 L296.51,78.81 L296.72,79.45 L296.94,80.09 L297.16,80.72 L297.38,81.34 L297.59,81.96 L297.81,82.56 L298.03,83.16 L298.25,83.73 L298.46,84.29 L298.67,84.83 L298.89,85.34 L299.09,85.84 L299.30,86.30 L299.63,87.01 L299.95,87.67 L300.26,88.29 L300.58,88.88 L300.89,89.43 L301.20,89.96 L301.51,90.46 L301.82,90.95 L302.14,91.43 L302.46,91.89 L302.79,92.36 L303.13,92.82 L303.48,93.30 L303.84,93.78 L304.21,94.28 L304.60,94.80 L304.96,95.28 L305.34,95.61 L305.73,96.43 L306.13,96.96 L306.54,97.06 L306.96,98.02 L307.39,98.32 L307.82,98.75 L308.26,99.12 L308.69,99.76 L309.13,100.55 L309.56,100.68 L309.99,101.07 L310.41,101.52 L310.82,101.95 L311.23,102.47 L311.62,103.14 L312.00,103.09 L312.55,103.65 L313.07,104.48 L313.58,104.92 L314.07,105.29 L314.56,105.27 L315.04,105.65 L315.51,106.26 L315.99,106.32 L316.48,106.72 L316.97,106.81 L317.48,106.96 L318.00,107.42 L318.53,107.93 L319.07,108.26 L319.61,108.45 L320.16,108.70 L320.71,109.02 L321.26,109.26 L321.83,109.58 L322.40,110.00 L322.98,109.94 L323.58,110.38 L324.18,110.79 L324.80,110.97 L325.34,110.82 L325.90,111.39 L326.46,111.50 L327.03,111.32 L327.62,111.53 L328.21,111.64 L328.80,111.71 L329.40,112.31 L330.00,112.15 L330.60,112.51 L331.20,112.26 L331.81,112.32 L332.40,112.87 L333.00,112.95 L333.61,113.16 L334.26,113.12 L334.94,113.14 L335.63,113.37 L336.33,113.13 L337.03,113.45 L337.71,113.50 L338.38,113.43 L339.01,113.74 L339.61,113.68 L340.15,113.84 L340.64,113.84 L341.06,113.86 L341.40,113.93"/>
<path id="bpr" class="tr rd" d="M280.50,157.75 L283.00,158.00 L284.00,160.75 L284.90,156.50 M284.90,156.55 L285.13,156.42 L285.43,155.92 L285.93,155.41 L286.75,155.07 L287.18,154.72 L287.66,155.02 L288.18,154.64 L288.75,154.56 L289.37,154.75 L290.02,154.88 L290.71,154.71 L291.44,154.89 L292.20,154.75 L293.00,155.13 L293.53,154.91 L294.09,154.96 L294.68,155.02 L295.29,155.24 L295.93,155.35 L296.59,155.18 L297.25,155.19 L297.92,155.34 L298.60,155.12 L299.27,155.36 L299.93,155.64 L300.59,155.66 L301.23,155.36 L301.84,155.82 L302.44,155.64 L303.00,155.99 L303.72,155.75 L304.42,155.76 L305.11,156.01 L305.78,156.26 L306.43,156.12 L307.06,156.42 L307.68,156.42 L308.28,156.31 L308.86,156.34 L309.42,156.48 L309.97,156.45 L310.50,156.44 L311.26,156.54 L311.97,156.60 L312.64,156.36 L313.27,156.03 L313.87,155.92 L314.44,155.83 L314.98,155.77 L315.50,155.32 L316.13,154.98 L316.70,154.76 L317.21,154.35 L317.68,153.79 L318.14,153.56 L318.60,153.21 L318.94,152.55 L319.27,152.11 L319.58,151.57 L319.89,150.97 L320.19,150.40 L320.49,149.58 L320.79,149.16 L321.10,148.41 L321.57,148.15 L322.01,147.36 L322.46,146.93 L322.98,146.71 L323.60,145.99 L324.07,145.66 L324.54,145.71 L325.03,145.34 L325.58,144.85 L326.24,144.61 L327.03,144.59 L328.00,144.25 L328.48,144.61 L329.03,144.23 L329.64,144.23 L330.29,144.24 L330.99,144.26 L331.71,144.19 L332.45,144.26 L333.20,144.24 L333.95,144.11 L334.68,143.91 L335.39,144.33 L336.07,144.17 L336.70,143.85 L337.28,144.02 L337.80,144.16 L338.24,144.26 L338.60,143.78"/>
<path id="bpb" class="tr bl" d="M284.90,154.80 L285.06,154.48 L285.27,153.88 L285.53,153.27 L285.81,152.51 L286.12,151.67 L286.44,151.02 L286.75,150.52 L287.17,150.00 L287.58,149.38 L288.04,149.03 L288.58,148.69 L289.25,148.63 L289.74,148.46 L290.27,148.66 L290.83,148.64 L291.44,148.74 L292.08,148.77 L292.77,148.93 L293.49,149.12 L294.25,149.32 L294.81,149.35 L295.42,149.41 L296.08,149.68 L296.77,149.75 L297.48,149.86 L298.20,149.93 L298.90,150.09 L299.58,150.33 L300.21,150.28 L300.80,150.44 L301.31,150.51 L301.75,150.47 L302.78,150.51 L303.19,150.21 L303.60,149.32 L303.79,148.87 L303.98,148.25 L304.17,147.63 L304.36,147.07 L304.55,146.36 L304.74,145.63 L304.93,145.06 L305.12,144.23 L305.31,143.69 L305.50,143.09 L305.71,142.26 L305.91,141.74 L306.11,140.96 L306.31,140.26 L306.51,139.61 L306.72,138.95 L306.94,138.45 L307.16,137.88 L307.40,137.47 L307.77,136.80 L308.17,136.06 L308.57,135.61 L309.00,135.17 L309.44,134.75 L309.90,134.45 L310.39,134.17 L310.83,134.07 L311.32,133.91 L312.01,133.86 L313.00,133.94 L313.43,134.03 L313.88,134.11 L314.36,134.12 L314.85,134.29 L315.38,134.29 L315.93,134.48 L316.52,134.58 L317.14,134.62 L317.80,134.86 L318.49,134.92 L319.24,135.08 L320.03,135.24 L320.86,135.38 L321.75,135.49 L322.23,135.49 L322.74,135.71 L323.30,135.81 L323.88,135.82 L324.49,135.93 L325.13,135.97 L325.79,136.19 L326.47,136.25 L327.16,136.26 L327.86,136.49 L328.57,136.62 L329.29,136.60 L330.01,136.84 L330.72,136.84 L331.43,136.88 L332.13,137.09 L332.82,137.12 L333.49,137.30 L334.15,137.36 L334.78,137.36 L335.38,137.53 L335.96,137.68 L336.50,137.69 L337.01,137.77 L337.47,137.91 L337.90,137.89 L338.27,137.95 L338.60,138.02"/>

<!-- ============ PANEL C ============ -->
<text class="b" x="356.9" y="16.9">C</text>
<text class="t8" x="356.9" y="34.6" textLength="51.2" lengthAdjust="spacingAndGlyphs">CRP 0.4 µg/ml</text>
<line x1="378.5" y1="35.3" x2="378.5" y2="42" stroke="#000" stroke-width="1"/>
<polygon class="ar" points="376.4,40.9 380.6,40.9 378.5,46.6"/>
<path id="cr" class="tr rd" d="M375.30,60.10 L375.66,60.07 L376.12,60.03 L376.65,59.97 L377.25,59.90 L377.90,59.84 L378.59,59.77 L379.30,59.71 L380.03,59.66 L380.76,59.63 L381.47,59.63 L382.15,59.65 L382.80,59.70 L383.43,59.79 L384.08,59.90 L384.73,60.03 L385.39,60.19 L386.05,60.36 L386.70,60.55 L387.34,60.75 L387.97,60.96 L388.57,61.17 L389.15,61.38 L389.69,61.59 L390.20,61.80 L390.88,62.10 L391.47,62.41 L392.00,62.72 L392.48,63.04 L392.95,63.38 L393.43,63.75 L393.94,64.15 L394.50,64.60 L394.94,64.95 L395.40,65.32 L395.87,65.70 L396.35,66.10 L396.84,66.51 L397.33,66.94 L397.83,67.39 L398.33,67.84 L398.82,68.32 L399.31,68.80 L399.80,69.30 L400.20,69.74 L400.60,70.19 L401.00,70.66 L401.39,71.15 L401.79,71.64 L402.18,72.15 L402.58,72.66 L402.98,73.17 L403.39,73.68 L403.80,74.20 L404.22,74.70 L404.66,75.21 L405.10,75.70 L405.52,76.16 L405.96,76.63 L406.40,77.11 L406.85,77.59 L407.30,78.07 L407.77,78.55 L408.23,79.02 L408.70,79.49 L409.17,79.95 L409.64,80.40 L410.11,80.83 L410.58,81.24 L411.04,81.63 L411.50,82.00 L412.03,82.50 L412.57,82.70 L413.11,83.03 L413.64,83.57 L414.18,83.84 L414.72,84.07 L415.25,84.54 L415.79,84.81 L416.32,84.96 L416.85,85.33 L417.38,85.50 L417.90,85.67 L418.51,85.75 L419.11,85.83 L419.70,86.17 L420.28,86.30 L420.87,86.27 L421.46,86.38 L422.06,86.47 L422.68,86.42 L423.33,86.61 L424.00,86.62 L424.61,86.61 L425.28,86.55 L425.99,86.71 L426.73,86.65 L427.48,86.78 L428.23,86.61 L428.96,86.68 L429.64,86.62 L430.28,86.68 L430.84,86.72 L431.32,86.58 L431.70,86.57"/>
<line x1="378.1" y1="53.3" x2="378.1" y2="60.1" stroke="#b3113a" stroke-width="1"/>
<path id="cb" class="tr bl2" style="stroke-width:1.3" d="M375.30,60.10 L375.66,60.07 L376.12,60.03 L376.65,59.97 L377.25,59.90 L377.90,59.84 L378.59,59.77 L379.30,59.71 L380.03,59.66 L380.76,59.63 L381.47,59.63 L382.15,59.65 L382.80,59.70 L383.43,59.79 L384.08,59.90 L384.73,60.03 L385.39,60.19 L386.05,60.36 L386.70,60.55 L387.34,60.75 L387.97,60.96 L388.57,61.17 L389.15,61.38 L389.69,61.59 L390.20,61.80 L390.89,62.09 L391.52,62.36 L392.09,62.62 L392.61,62.91 L393.10,63.23 L393.57,63.60 L394.04,64.05 L394.50,64.60 L394.80,65.01 L395.09,65.43 L395.35,65.88 L395.61,66.35 L395.86,66.85 L396.11,67.38 L396.35,67.94 L396.60,68.54 L396.86,69.18 L397.12,69.87 L397.40,70.61 L397.70,71.40 L397.87,71.86 L398.05,72.35 L398.23,72.87 L398.41,73.42 L398.60,73.99 L398.80,74.57 L398.99,75.18 L399.19,75.79 L399.39,76.42 L399.59,77.05 L399.79,77.69 L400.00,78.33 L400.20,78.97 L400.40,79.61 L400.60,80.24 L400.79,80.86 L400.99,81.46 L401.18,82.05 L401.37,82.63 L401.55,83.18 L401.73,83.70 L401.90,84.20 L402.14,84.89 L402.38,85.56 L402.61,86.20 L402.83,86.82 L403.04,87.39 L403.25,87.63 L403.46,88.55 L403.67,88.69 L403.87,89.14 L404.08,90.19 L404.29,91.17 L404.51,91.61 L404.73,91.70 L404.96,92.07 L405.20,92.18 L405.48,93.02 L405.76,93.64 L406.05,94.97 L406.34,94.54 L406.63,96.09 L406.93,96.06 L407.23,96.54 L407.54,96.86 L407.86,98.21 L408.18,97.78 L408.51,98.73 L408.85,99.14 L409.20,99.24 L409.59,99.76 L409.98,101.15 L410.39,101.38 L410.80,101.76 L411.22,102.40 L411.65,101.86 L412.09,103.01 L412.53,103.47 L412.99,103.25 L413.45,103.94 L413.92,104.96 L414.40,104.59 L414.85,105.49 L415.31,105.16 L415.78,106.14 L416.26,106.04 L416.75,106.70 L417.24,106.91 L417.74,107.87 L418.25,108.08 L418.75,108.13 L419.26,108.69 L419.78,108.71 L420.29,109.47 L420.80,109.11 L421.37,109.76 L421.95,110.10 L422.56,110.14 L423.17,109.99 L423.78,110.39 L424.39,111.19 L425.00,110.91 L425.59,111.79 L426.16,111.70 L426.71,112.44 L427.22,112.52 L427.70,112.57 L428.47,112.48 L429.20,112.40 L429.87,113.31 L430.48,113.81 L431.01,114.25 L431.45,113.59 L431.80,113.69"/>
<path id="cpr" class="tr rdm" d="M372.50,158.10 C373.02,158.25 374.85,159.00 375.60,159.00 C376.35,159.00 375.02,158.25 377.00,158.10 C378.98,157.95 385.02,158.30 387.50,158.10 C389.98,157.90 390.65,157.46 391.90,156.90 C393.15,156.34 393.86,155.32 395.00,154.75 C396.14,154.18 397.50,153.75 398.75,153.50 C400.00,153.25 401.04,153.17 402.50,153.25 C403.96,153.33 405.42,153.67 407.50,154.00 C409.58,154.33 412.29,154.88 415.00,155.25 C417.71,155.62 421.04,156.08 423.75,156.25 C426.46,156.42 430.00,156.25 431.25,156.25"/>
<path id="cpb" class="tr blm" d="M372.50,158.10 C373.25,158.10 374.50,158.10 377.00,158.10 C379.50,158.10 385.23,158.72 387.50,158.10 C389.77,157.48 389.56,155.65 390.60,154.40 C391.64,153.15 392.70,151.50 393.75,150.60 C394.80,149.70 395.86,149.27 396.90,149.00 C397.94,148.73 398.44,148.73 400.00,149.00 C401.56,149.27 403.75,149.92 406.25,150.60 C408.75,151.28 412.08,152.47 415.00,153.10 C417.92,153.73 421.04,154.12 423.75,154.40 C426.46,154.68 430.00,154.69 431.25,154.75"/>

<!-- legend top -->
<line x1="421.25" y1="33.7" x2="428.1" y2="33.7" stroke="#b0102f" stroke-width="1.5"/>
<line x1="421.25" y1="45" x2="428.1" y2="45" stroke="#2b4a88" stroke-width="1.4"/>
<text class="t75" x="431" y="36.3" textLength="17.7" lengthAdjust="spacingAndGlyphs">BST2</text>
<text class="sup" x="449" y="33.2" textLength="8.5" lengthAdjust="spacingAndGlyphs">+/+</text>
<text class="t75" x="431" y="47.9" textLength="17.7" lengthAdjust="spacingAndGlyphs">BST2</text>
<text class="sup" x="449" y="44.5" textLength="4.8" lengthAdjust="spacingAndGlyphs">-/-</text>

<!-- ============ PANEL D ============ -->
<text class="b" x="6.9" y="191.9">D</text>
<circle cx="51" cy="189.5" r="0.9" fill="#111"/>
<text class="t75" x="57.75" y="193.6" textLength="22.9" lengthAdjust="spacingAndGlyphs">P<tspan style="font-size:6px;fill:#666;stroke:none">&lt;</tspan>0.05</text>
<rect class="rb" x="46" y="197.9" width="8.75" height="4.6"/>
<text class="t75" x="57.75" y="202.9" textLength="17.9" lengthAdjust="spacingAndGlyphs">BST2</text>
<text class="sup" x="75.8" y="199.8" textLength="8.6" lengthAdjust="spacingAndGlyphs">+/+</text>
<rect class="bb" x="46" y="208.4" width="8.75" height="4.5"/>
<text class="t75" x="57.75" y="213.2" textLength="17.9" lengthAdjust="spacingAndGlyphs">BST2</text>
<text class="sup" x="75.8" y="209.8" textLength="4.8" lengthAdjust="spacingAndGlyphs">-/-</text>

<!-- D bars -->
<g>
<rect class="rb" x="46.9" y="251" width="10" height="36.25"/>
<rect class="bb" x="56.9" y="239.1" width="9.3" height="48.15"/>
<rect class="rb" x="75.25" y="236.25" width="9.75" height="51"/>
<rect class="bb" x="85" y="231.9" width="9.4" height="55.35"/>
<rect class="bb" x="115" y="276.25" width="9.6" height="11"/>
<rect class="rb" x="141.25" y="255.25" width="9.75" height="32"/>
<rect class="bb" x="151" y="241" width="9.2" height="46.25"/>
<rect class="rb" x="177.1" y="272.25" width="9.8" height="15"/>
<rect class="bb" x="186.9" y="239.4" width="9" height="47.85"/>
</g>
<path class="eb" d="M51.9,251 V249 M50,249 H53.8 M61.5,239.1 V237.5 M59.5,237.5 H63.5 M80,236.25 V230.6 M78.1,230.6 H81.9 M90,231.9 V226.25 M88,226.25 H92 M119.75,276.25 V273.1 M117.75,273.1 H121.75 M146,255.25 V251.25 M144,251.25 H148 M155.6,241 V238.5 M153.6,238.5 H157.6 M181.9,272.25 V266 M180,266 H183.8 M191.5,239.4 V238.1 M189.5,238.1 H193.5"/>
<path class="br" d="M51.25,231.9 V230.25 H61.9 V231.9 M79.75,221.9 V220.25 H90.25 V221.9 M109.4,269.2 V267.5 H120.6 V269.2 M145.25,231.9 V230.25 H155.6 V231.9 M181.25,231.9 V230.25 H191.9 V231.9"/>
<g fill="#111">
<circle cx="56.5" cy="226.3" r="0.9"/><circle cx="85" cy="216.3" r="0.9"/><circle cx="115" cy="262.8" r="0.9"/><circle cx="150.6" cy="226" r="0.9"/><circle cx="186.5" cy="226" r="0.9"/>
</g>
<!-- D axes -->
<line class="ax" x1="39.9" y1="221.9" x2="39.9" y2="288"/>
<line class="ax" x1="36.9" y1="287.6" x2="206.25" y2="287.6"/>
<path class="ax" d="M36.9,224.4 H39.9 M36.9,236.9 H39.9 M36.9,249.4 H39.9 M36.9,262 H39.9 M36.9,274.6 H39.9"/>
<g class="t8" text-anchor="end">
<text x="34" y="227.2" textLength="13.6" lengthAdjust="spacingAndGlyphs">100</text><text x="34" y="239.7" textLength="9.4" lengthAdjust="spacingAndGlyphs">80</text><text x="34" y="252.2" textLength="9.4" lengthAdjust="spacingAndGlyphs">60</text><text x="34" y="264.8" textLength="9.4" lengthAdjust="spacingAndGlyphs">40</text><text x="34" y="277.4" textLength="9.4" lengthAdjust="spacingAndGlyphs">20</text><text x="34" y="290" textLength="4.7" lengthAdjust="spacingAndGlyphs">0</text>
</g>
<text class="rl" text-anchor="middle" transform="translate(14.6,253.75) rotate(-90)" textLength="64.3" lengthAdjust="spacingAndGlyphs">Max aggregation ( %)</text>
<!-- D x labels -->
<text class="t8" x="40.25" y="297.5" textLength="32.25" lengthAdjust="spacingAndGlyphs">Thr 0.025</text>
<text class="t8" x="46" y="306" textLength="21.25" lengthAdjust="spacingAndGlyphs">(u/mL)</text>
<text class="t8" x="93.1" y="297.5" textLength="40" lengthAdjust="spacingAndGlyphs">ARC66096</text>
<line x1="75.25" y1="300.8" x2="131.5" y2="300.8" stroke="#222" stroke-width="1"/>
<text class="t8" x="86.9" y="310.6" textLength="32.5" lengthAdjust="spacingAndGlyphs">Thr 0.035</text>
<text class="t8" x="92.75" y="319.2" textLength="21.25" lengthAdjust="spacingAndGlyphs">(u/mL)</text>
<text class="t8" x="136.9" y="297.5" textLength="28.7" lengthAdjust="spacingAndGlyphs">U46619</text>
<text class="t8" x="136.9" y="306" textLength="28.7" lengthAdjust="spacingAndGlyphs">0.5 (µM)</text>
<text class="t8" x="171.9" y="297.5" textLength="29.35" lengthAdjust="spacingAndGlyphs">CRP:0.4</text>
<text class="t8" x="174.75" y="306" textLength="23.75" lengthAdjust="spacingAndGlyphs">(µg/ml)</text>

<!-- ============ PANEL E ============ -->
<text class="b" x="217.1" y="191.9">E</text>
<circle cx="259.75" cy="189.75" r="0.9" fill="#111"/>
<text class="t75" x="266.9" y="193.6" textLength="22.9" lengthAdjust="spacingAndGlyphs">P<tspan style="font-size:6px;fill:#666;stroke:none">&lt;</tspan>0.05</text>
<rect class="rb" x="255" y="197.75" width="8.5" height="4.6"/>
<text class="t75" x="266.9" y="202.9" textLength="17.9" lengthAdjust="spacingAndGlyphs">BST2</text>
<text class="sup" x="284.9" y="199.8" textLength="8.6" lengthAdjust="spacingAndGlyphs">+/+</text>
<rect class="bb" x="255" y="208.2" width="8.5" height="4.6"/>
<text class="t75" x="266.9" y="213.2" textLength="17.9" lengthAdjust="spacingAndGlyphs">BST2</text>
<text class="sup" x="284.9" y="209.8" textLength="4.8" lengthAdjust="spacingAndGlyphs">-/-</text>

<g>
<rect class="rb" x="256" y="282.25" width="9.4" height="5.15"/>
<rect class="bb" x="265.4" y="261.25" width="9.35" height="26.15"/>
<rect class="rb" x="284.4" y="263.1" width="9.35" height="24.3"/>
<rect class="bb" x="293.75" y="240.4" width="9.35" height="47"/>
<rect class="rb" x="314" y="286" width="9.75" height="1.4"/>
<rect class="bb" x="323.75" y="284.4" width="9.35" height="3"/>
<rect class="rb" x="350" y="273.1" width="9.75" height="14.3"/>
<rect class="bb" x="359.75" y="263.9" width="9.4" height="23.5"/>
<rect class="rb" x="386.1" y="283.9" width="9.3" height="3.5"/>
<rect class="bb" x="395.4" y="276.5" width="9.5" height="10.9"/>
</g>
<path class="eb" d="M260.6,282.25 V280.25 M258.6,280.25 H262.6 M270.25,261.25 V259.4 M268.25,259.4 H272.25 M288.75,263.1 V259.75 M286.75,259.75 H290.75 M298.75,240.4 V236.5 M296.75,236.5 H300.75 M328.5,284.4 V283.5 M326.5,283.5 H330.5 M354.6,273.1 V271.25 M352.6,271.25 H356.6 M364.4,263.9 V262 M362.4,262 H366.4 M390.5,283.9 V282.3 M388.5,282.3 H392.5 M400.3,276.5 V275 M398.3,275 H402.3"/>
<path class="br" d="M260.25,250.4 V248.75 H270.6 V250.4 M288.5,232.3 V230.6 H298.75 V232.3 M318.5,281.7 V280 H329 V281.7 M354.2,259.3 V257.6 H364.7 V259.3 M390.5,270.7 V269 H400.6 V270.7"/>
<g fill="#111">
<circle cx="265.25" cy="244.75" r="0.9"/><circle cx="293.75" cy="226" r="0.9"/><circle cx="323.75" cy="276" r="0.9"/><circle cx="359.5" cy="253.3" r="0.9"/><circle cx="395.4" cy="264.6" r="0.9"/>
</g>
<line class="ax" x1="249.3" y1="221.9" x2="249.3" y2="288"/>
<line class="ax" x1="246" y1="287.7" x2="415.4" y2="287.7"/>
<path class="ax" d="M246.25,224.4 H249.3 M246.25,245.4 H249.3 M246.25,266.3 H249.3"/>
<g class="t8" text-anchor="end">
<text x="243.1" y="227.2" textLength="11.4" lengthAdjust="spacingAndGlyphs">1.5</text><text x="243.1" y="248.2" textLength="11.4" lengthAdjust="spacingAndGlyphs">1.0</text><text x="243.1" y="269.1" textLength="11.4" lengthAdjust="spacingAndGlyphs">0.5</text><text x="243.1" y="290.2" textLength="4.7" lengthAdjust="spacingAndGlyphs">0</text>
</g>
<text class="rl" text-anchor="middle" transform="translate(223.7,254.65) rotate(-90)" textLength="52.1" lengthAdjust="spacingAndGlyphs">ATP release (µM)</text>
<text class="t8" x="249.4" y="297.5" textLength="31.85" lengthAdjust="spacingAndGlyphs">Thr 0.025</text>
<text class="t8" x="254.75" y="306" textLength="21.5" lengthAdjust="spacingAndGlyphs">(u/mL)</text>
<text class="t8" x="302.1" y="297.5" textLength="39.4" lengthAdjust="spacingAndGlyphs">ARC66096</text>
<line x1="284.4" y1="300.9" x2="340" y2="300.9" stroke="#222" stroke-width="1"/>
<text class="t8" x="296.25" y="310.6" textLength="31.85" lengthAdjust="spacingAndGlyphs">Thr 0.035</text>
<text class="t8" x="301.9" y="319.2" textLength="20.85" lengthAdjust="spacingAndGlyphs">(u/mL)</text>
<text class="t8" x="346.2" y="297.5" textLength="28.4" lengthAdjust="spacingAndGlyphs">U46619</text>
<text class="t8" x="346.2" y="306" textLength="28.4" lengthAdjust="spacingAndGlyphs">0.5 (µM)</text>
<text class="t8" x="380.8" y="297.5" textLength="29.2" lengthAdjust="spacingAndGlyphs">CRP:0.4</text>
<text class="t8" x="383.8" y="306" textLength="23.4" lengthAdjust="spacingAndGlyphs">(µg/ml)</text>

<!-- ============ PANEL F ============ -->
<text class="b" x="425" y="191.9">F</text>
<circle cx="478.75" cy="189.75" r="0.9" fill="#111"/>
<text class="t75" x="485.6" y="193.6" textLength="23.4" lengthAdjust="spacingAndGlyphs">P<tspan style="font-size:6px;fill:#666;stroke:none">&lt;</tspan>0.05</text>
<rect class="rb" x="474" y="197.75" width="8.75" height="4.5"/>
<text class="t75" x="485.6" y="203" textLength="18.4" lengthAdjust="spacingAndGlyphs">BST2</text>
<text class="sup" x="504.2" y="199.8" textLength="8.6" lengthAdjust="spacingAndGlyphs">+/+</text>
<rect class="bb" x="474" y="208.1" width="8.75" height="4.6"/>
<text class="t75" x="485.6" y="213.3" textLength="18.4" lengthAdjust="spacingAndGlyphs">BST2</text>
<text class="sup" x="504.2" y="209.8" textLength="4.8" lengthAdjust="spacingAndGlyphs">-/-</text>
<rect class="rb" x="475" y="246.9" width="9.6" height="40.6"/>
<rect class="bb" x="484.6" y="241.6" width="9.4" height="45.9"/>
<path class="eb" d="M479.75,246.9 V244.4 M477.75,244.4 H481.75 M489.4,241.6 V239.75 M487.4,239.75 H491.4"/>
<path class="br" d="M479.4,235.9 V234.2 H489.75 V235.9"/>
<circle cx="484.4" cy="229.4" r="0.9" fill="#111"/>
<line class="ax" x1="468.3" y1="210.6" x2="468.3" y2="288"/>
<line class="ax" x1="465.6" y1="287.6" x2="505.25" y2="287.6"/>
<path class="ax" d="M465.4,213.5 H468.3 M465.4,238.1 H468.3 M465.4,263.1 H468.3"/>
<g class="t8" text-anchor="end">
<text x="461.9" y="216.2" textLength="13.8" lengthAdjust="spacingAndGlyphs">150</text><text x="461.9" y="240.8" textLength="13.8" lengthAdjust="spacingAndGlyphs">100</text><text x="461.9" y="265.8" textLength="9.4" lengthAdjust="spacingAndGlyphs">50</text><text x="461.9" y="290.2" textLength="4.7" lengthAdjust="spacingAndGlyphs">0</text>
</g>
<text class="rl" text-anchor="middle" transform="translate(432.1,248.9) rotate(-90)" textLength="33.4" lengthAdjust="spacingAndGlyphs">GeoMean of</text>
<text class="rl" text-anchor="middle" transform="translate(442.6,248.1) rotate(-90)" textLength="61.7" lengthAdjust="spacingAndGlyphs">P-selectin expression</text>
<text class="t8" x="471" y="297.5" textLength="27.75" lengthAdjust="spacingAndGlyphs">Thr 0.03</text>
<text class="t8" x="474" y="306" textLength="21.25" lengthAdjust="spacingAndGlyphs">(u/mL)</text>
</svg>
</body></html>
